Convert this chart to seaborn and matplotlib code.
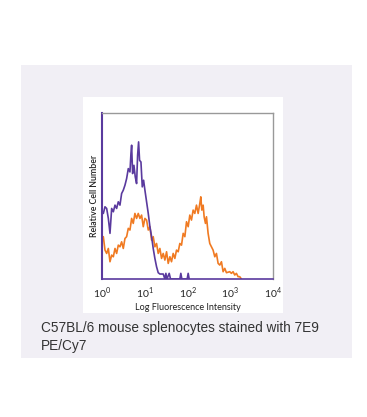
import numpy as np
import pandas as pd
import matplotlib
matplotlib.use("Agg")
import matplotlib.pyplot as plt
import seaborn as sns
from matplotlib.patches import Rectangle

# log10 fluorescence and relative counts
unstained_log = [0.031, 0.070, 0.109, 0.148, 0.187, 0.226, 0.265, 0.304, 0.342, 0.381,
                 0.420, 0.459, 0.498, 0.537, 0.576, 0.615, 0.654, 0.677, 0.693, 0.716,
                 0.747, 0.778, 0.809, 0.833, 0.856, 0.879, 0.911, 0.942, 0.973, 1.004,
                 1.043, 1.082, 1.121, 1.160, 1.198, 1.237, 1.276, 1.315, 1.354, 1.432,
                 1.471, 1.494, 1.518, 1.572, 1.603, 1.821, 1.844, 1.868, 1.992, 2.016, 2.039]
unstained_cnt = [39.5, 43.5, 42.5, 36.5, 27.5, 42.5, 40.5, 44.5, 42.5, 46.5,
                 44.5, 51.5, 53.5, 56.5, 60.5, 66.5, 64.5, 75.5, 80.6, 63.5,
                 68.5, 61.5, 57.5, 74.5, 82.6, 71.5, 70.5, 55.5, 59.5, 53.5,
                 46.5, 39.5, 31.5, 25.5, 18.4, 12.4, 7.4, 3.8, 3.0, 3.0,
                 0.0, 3.4, 0.0, 3.4, 0.0, 0.0, 3.4, 0.0, 0.0, 3.4, 0.0]

stained_log = [0.031, 0.070, 0.109, 0.148, 0.187, 0.226, 0.265, 0.304, 0.342, 0.381,
               0.420, 0.459, 0.498, 0.537, 0.576, 0.615, 0.654, 0.693, 0.731, 0.770,
               0.809, 0.848, 0.887, 0.926, 0.965, 1.004, 1.043, 1.082, 1.121, 1.160,
               1.198, 1.237, 1.276, 1.315, 1.354, 1.393, 1.432, 1.471, 1.510, 1.549,
               1.588, 1.626, 1.665, 1.704, 1.743, 1.782, 1.821, 1.860, 1.899, 1.938,
               1.977, 2.016, 2.054, 2.093, 2.132, 2.171, 2.210, 2.249, 2.288, 2.311,
               2.335, 2.366, 2.389, 2.420, 2.444, 2.482, 2.521, 2.560, 2.599, 2.638,
               2.677, 2.716, 2.755, 2.794, 2.833, 2.872, 2.911, 2.988, 3.027, 3.066,
               3.105, 3.144, 3.183, 3.222, 3.261]
stained_cnt = [25.5, 17.4, 15.4, 18.4, 10.4, 14.4, 13.4, 18.4, 15.4, 20.4,
               19.4, 22.4, 18.4, 24.4, 25.5, 30.5, 29.5, 36.5, 33.5, 39.5,
               36.5, 39.5, 36.5, 38.5, 31.5, 36.5, 35.5, 29.5, 31.5, 23.4,
               25.5, 19.4, 21.4, 15.4, 18.4, 12.4, 15.4, 11.4, 16.4, 9.4,
               13.4, 10.4, 15.4, 12.4, 17.4, 16.4, 21.4, 20.4, 27.5, 25.5,
               34.5, 31.5, 38.5, 35.5, 41.5, 39.5, 44.5, 39.5, 45.5, 49.5,
               41.5, 44.5, 37.5, 33.5, 37.5, 27.5, 21.4, 19.4, 17.4, 13.4,
               15.4, 9.4, 8.4, 10.4, 4.4, 6.4, 3.8, 4.4, 3.4, 4.4,
               2.4, 3.4, 1.4, 1.4, 0.0]

x_ticks = [1, 10, 100, 1000, 10000]
x_ticklabels = ["$10^0$", "$10^1$", "$10^2$", "$10^3$", "$10^4$"]
x_label = "Log Fluorescence Intensity"
y_label = "Relative Cell Number"
caption = "C57BL/6 mouse splenocytes stained with 7E9\nPE/Cy7"

PURPLE = "#5a3a9e"
ORANGE = "#f07a22"

sns.set_style("white")
plt.rcParams['font.family'] = ['Lato', 'DejaVu Sans']
plt.rcParams['mathtext.fontset'] = 'custom'
plt.rcParams['mathtext.rm'] = 'Lato'

fig = plt.figure(figsize=(3.67, 4.17), dpi=100)
W, H = 367, 417
fig.patches.append(Rectangle((21 / W, 1 - 358 / H), 331 / W, 293 / H,
                             transform=fig.transFigure, facecolor="#f1eff5",
                             edgecolor="none", zorder=-2))
fig.patches.append(Rectangle((83 / W, 1 - 313 / H), 200 / W, 216 / H,
                             transform=fig.transFigure, facecolor="white",
                             edgecolor="none", zorder=-1))

ax = fig.add_axes([102 / W, 1 - 279 / H, 171 / W, 166 / H])
ax.set_facecolor("white")

df_s = pd.DataFrame({"x": np.power(10.0, stained_log), "y": stained_cnt})
df_u = pd.DataFrame({"x": np.power(10.0, unstained_log), "y": unstained_cnt})
sns.lineplot(data=df_s, x="x", y="y", ax=ax, color=ORANGE, lw=1.2, sort=False)
sns.lineplot(data=df_u, x="x", y="y", ax=ax, color=PURPLE, lw=1.2, sort=False)

ax.set_xscale("log")
ax.set_xlim(1, 10000)
ax.set_ylim(0, 100)
ax.set_xticks(x_ticks)
ax.set_xticklabels(x_ticklabels, fontsize=7.5)
ax.minorticks_off()
ax.set_yticks([])
ax.tick_params(axis="x", length=0, pad=5, colors="#222222")
ax.set_xlabel(x_label, fontsize=6.5, color="#222222", labelpad=1)
ax.set_ylabel(y_label, fontsize=6.3, color="#222222", labelpad=2,
              fontweight="semibold")

for side in ["top", "right"]:
    ax.spines[side].set_color("#999999")
    ax.spines[side].set_linewidth(1.0)
ax.spines["left"].set_color(PURPLE)
ax.spines["left"].set_linewidth(1.5)
ax.spines["bottom"].set_color(PURPLE)
ax.spines["bottom"].set_linewidth(1.2)

fig.text(41 / W, 1 - 321 / H, caption, fontsize=9.8, color="#333333",
         family=['Liberation Sans', 'DejaVu Sans'], va="top", ha="left",
         linespacing=1.35)

fig.savefig("out.png", dpi=100, facecolor="white")
